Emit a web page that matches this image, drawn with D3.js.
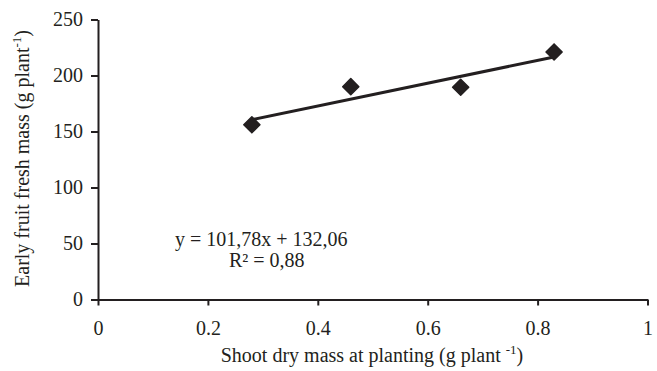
<!DOCTYPE html>
<html><head><meta charset="utf-8">
<script src="https://cdn.jsdelivr.net/npm/d3@7"></script>
<style>body{margin:0;background:#fff}text{font-family:"Liberation Serif","Times New Roman",serif;fill:#231f20}</style>
</head><body><svg id="c" width="657" height="371"></svg>
<script>
const shootMass = [0.28, 0.46, 0.66, 0.83];
const fruitMass = [156, 190, 189.5, 221];
const slope = 101.78, intercept = 132.06;
const xTicks = [0, 0.2, 0.4, 0.6, 0.8, 1];
const xTickLabels = ["0", "0.2", "0.4", "0.6", "0.8", "1"];
const yTicks = [0, 50, 100, 150, 200, 250];
const col = "#231f20";
const svg = d3.select("#c");
const x = d3.scaleLinear().domain([0, 1]).range([98, 647.5]);
const y = d3.scaleLinear().domain([0, 250]).range([299.5, 19.5]);

const xa = svg.append("g").attr("transform", `translate(0,${y(0)})`)
  .call(d3.axisBottom(x).tickValues(xTicks).tickFormat((d, i) => xTickLabels[i]).tickSize(6).tickPadding(15).tickSizeOuter(0));
const ya = svg.append("g").attr("transform", `translate(${x(0)},0)`)
  .call(d3.axisLeft(y).tickValues(yTicks).tickSize(7).tickPadding(8).tickSizeOuter(0));
[xa, ya].forEach(a => {
  a.select(".domain").attr("stroke", col).attr("stroke-width", 2);
  a.selectAll(".tick line").attr("stroke", col).attr("stroke-width", 2);
  a.selectAll(".tick text").style("font-family", "Liberation Serif").style("font-size", "20px").attr("fill", col);
});

const xr = d3.extent(shootMass);
svg.append("line").attr("x1", x(xr[0])).attr("y1", y(slope * xr[0] + intercept))
  .attr("x2", x(xr[1])).attr("y2", y(slope * xr[1] + intercept))
  .attr("stroke", col).attr("stroke-width", 3);

const sym = d3.symbol().type(d3.symbolSquare).size(130);
svg.selectAll("path.pt").data(shootMass).enter().append("path").attr("class", "pt")
  .attr("d", sym)
  .attr("transform", (d, i) => `translate(${x(d)},${y(fruitMass[i])}) rotate(45)`)
  .attr("fill", col).attr("stroke", col).attr("stroke-width", 1.5).attr("stroke-linejoin", "round");

svg.append("text").attr("x", 175).attr("y", 246).style("font-size", "20px")
  .text("y = 101,78x + 132,06");
svg.append("text").attr("x", 229).attr("y", 267).style("font-size", "20px")
  .text("R² = 0,88");

const xl = svg.append("text").attr("x", 372).attr("y", 362).attr("text-anchor", "middle").style("font-size", "20px");
xl.append("tspan").text("Shoot dry mass at planting (g plant ");
xl.append("tspan").attr("dy", -8).style("font-size", "13px").text("-1");
xl.append("tspan").attr("dy", 8).text(")");

const yl = svg.append("text").attr("transform", "translate(29,158.5) rotate(-90)").attr("text-anchor", "middle").style("font-size", "20px");
yl.append("tspan").text("Early fruit fresh mass (g plant");
yl.append("tspan").attr("dy", -8).style("font-size", "13px").text("-1");
yl.append("tspan").attr("dy", 8).text(")");
</script></body></html>
